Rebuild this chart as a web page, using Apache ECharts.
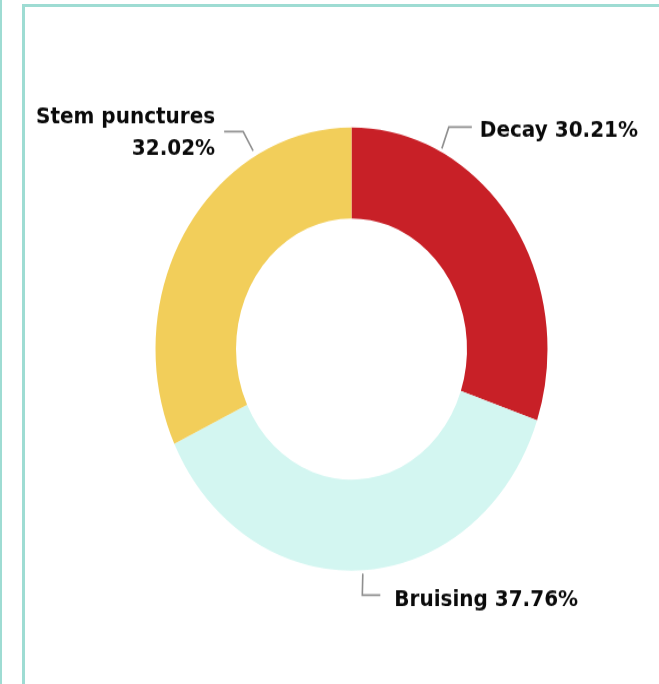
<!DOCTYPE html>
<html>
<head>
<meta charset="utf-8">
<script src="https://cdn.jsdelivr.net/npm/echarts@6/dist/echarts.min.js"></script>
<style>
html,body{margin:0;padding:0;background:#fff;overflow:hidden;width:659px;height:684px;}
#edge{position:absolute;left:0;top:0;width:2px;height:684px;background:#9edcd3;}
#frame{position:absolute;left:22px;top:4px;width:700px;height:720px;border-left:3px solid #9edcd3;border-top:3px solid #9edcd3;}
#chart{position:absolute;left:0;top:0;width:659px;height:605px;transform:scaleY(1.1306);transform-origin:0 0;}
</style>
</head>
<body>
<div id="edge"></div>
<div id="frame"></div>
<div id="chart"></div>
<script>
// ---- data ----
const categories = ['Decay', 'Bruising', 'Stem punctures'];
const shares = [30.21, 37.76, 32.02];   // percent
// ---- styles ----
const sliceColors = ['#c82027', '#d3f6f1', '#f2ce5a'];

// ---- geometry / layout ----
const CX = 351.5, CY = 308.7, R_IN = 115.5, R_OUT = 196;
// per-label guide: anchor angle (deg clockwise from top, null = mid angle), radius, elbow offset, run, gap, side
const guides = [
  { angle: 27,    r: 199, elbow: [7, -19],   run: 23, gap: 8,  side: 'right', yOff: 3 },
  { angle: null,  r: 199, elbow: [-0.5, 19], run: 18, gap: 14, side: 'right', yOff: 4.3 },
  { angle: -29.3, r: 201, elbow: [-10, -17], run: 19, gap: 9,  side: 'left',  yOff: 1 }
];

const total = shares.reduce((a, b) => a + b, 0);
function midAngle(i) {
  let before = 0;
  for (let k = 0; k < i; k++) before += shares[k];
  return 360 * (before + shares[i] / 2) / total;
}

const chart = echarts.init(document.getElementById('chart'), null, { renderer: 'canvas' });
chart.setOption({
  animation: false,
  series: [{
    type: 'pie',
    center: [CX, CY],
    radius: [R_IN, R_OUT],
    startAngle: 90,
    clockwise: true,
    avoidLabelOverlap: false,
    data: categories.map((name, i) => ({
      name: name,
      value: shares[i],
      itemStyle: { color: sliceColors[i] }
    })),
    label: {
      show: true,
      position: 'outside',
      formatter: p => p.name.length > 10 ? p.name + '\n' + p.value.toFixed(2) + '%' : p.name + ' ' + p.value.toFixed(2) + '%',
      fontFamily: 'DejaVu Sans',
      fontWeight: 'bold',
      fontSize: 20,
      lineHeight: 28,
      color: '#0a0a0a',
      width: 240,
      overflow: 'none'
    },
    labelLine: {
      show: true,
      length: 15,
      length2: 15,
      lineStyle: { color: '#8f8f8f', width: 1.6 }
    },
    emphasis: { disabled: true },
    labelLayout: function (params) {
      const i = params.dataIndex;
      const g = guides[i];
      const ang = (g.angle == null ? midAngle(i) : g.angle) * Math.PI / 180;
      const p0 = [CX + g.r * Math.sin(ang), CY - g.r * Math.cos(ang)];
      const p1 = [p0[0] + g.elbow[0], p0[1] + g.elbow[1]];
      const dir = g.side === 'right' ? 1 : -1;
      const p2 = [p1[0] + dir * g.run, p1[1]];
      return {
        x: p2[0] + dir * g.gap,
        y: p1[1] + g.yOff,
        align: g.side === 'right' ? 'left' : 'right',
        verticalAlign: 'middle',
        labelLinePoints: [p0, p1, p2]
      };
    }
  }]
});
</script>
</body>
</html>
